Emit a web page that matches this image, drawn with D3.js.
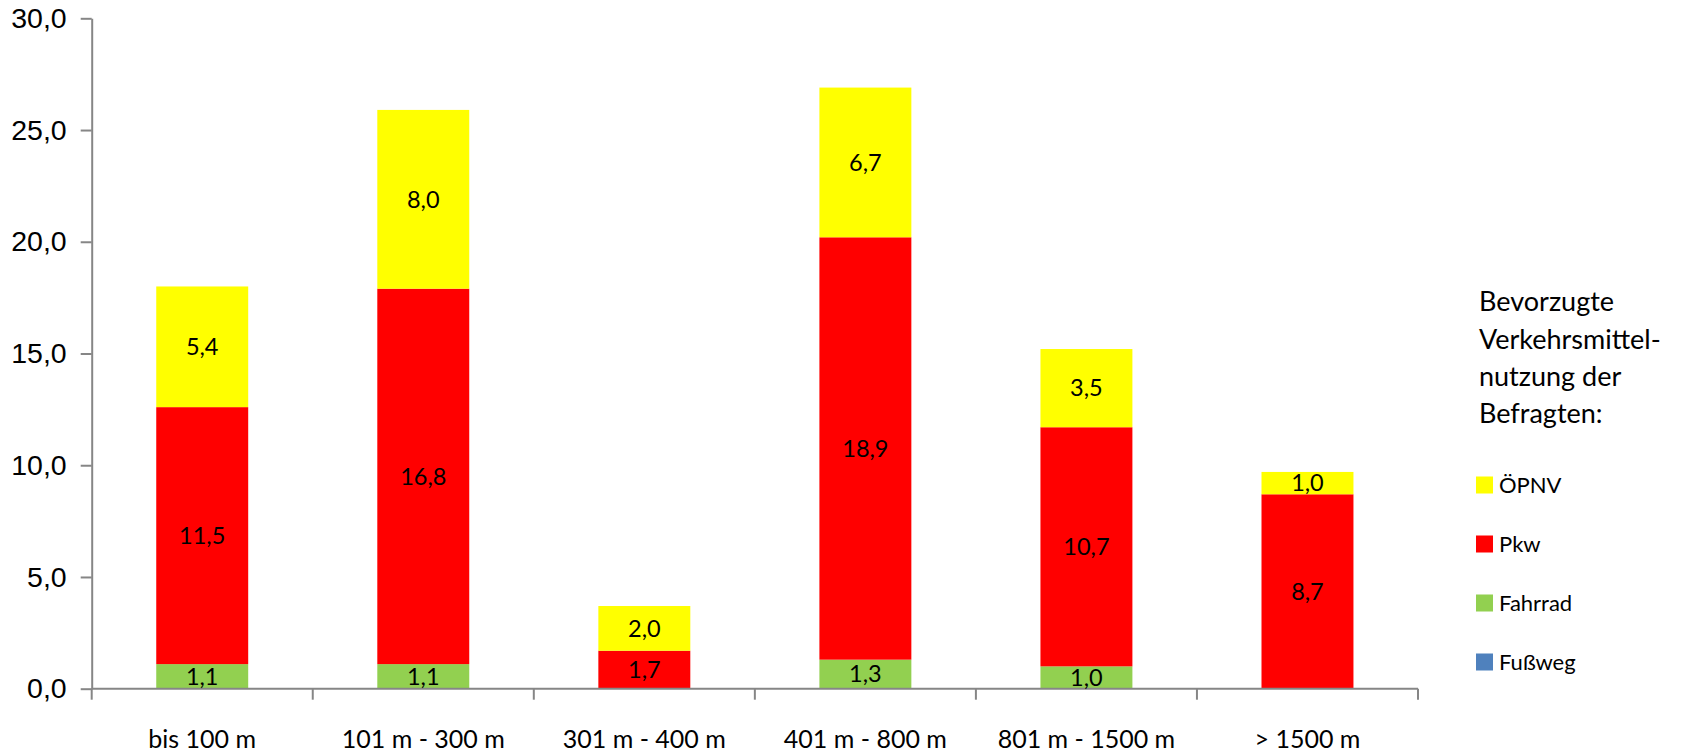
<!DOCTYPE html>
<html>
<head>
<meta charset="utf-8">
<script src="https://cdn.jsdelivr.net/npm/d3@7"></script>
<style>
  html, body { margin: 0; padding: 0; background: #fff; }
  svg { display: block; font-family: Lato, "Liberation Sans", sans-serif; }
</style>
</head>
<body>
<svg id="chart" width="1694" height="755"></svg>
<script>
const categories = ["bis 100 m", "101 m - 300 m", "301 m - 400 m", "401 m - 800 m", "801 m - 1500 m", "> 1500 m"];
const seriesNames = ["Fußweg", "Fahrrad", "Pkw", "ÖPNV"];
const fussweg = [0, 0, 0, 0, 0, 0];
const fahrrad = [1.1, 1.1, 0, 1.3, 1.0, 0];
const pkw = [11.5, 16.8, 1.7, 18.9, 10.7, 8.7];
const oepnv = [5.4, 8.0, 2.0, 6.7, 3.5, 1.0];
const yTicks = [0, 5, 10, 15, 20, 25, 30];
const legendTitle = ["Bevorzugte", "Verkehrsmittel-", "nutzung der", "Befragten:"];
const legendOrder = ["ÖPNV", "Pkw", "Fahrrad", "Fußweg"];

const colors = { "Fußweg": "#4F81BD", "Fahrrad": "#92D050", "Pkw": "#FF0000", "ÖPNV": "#FFFF00" };
const seriesValues = { "Fußweg": fussweg, "Fahrrad": fahrrad, "Pkw": pkw, "ÖPNV": oepnv };

const table = categories.map((c, i) => {
  const row = { cat: c };
  seriesNames.forEach(s => row[s] = seriesValues[s][i]);
  return row;
});

const svg = d3.select("#chart");
const axisColor = "#868686";
const fmt = v => d3.format(".1f")(v).replace(".", ",");

const x0 = 91.7, x1 = 1418;
const pad = 0.584;
const x = d3.scaleBand().domain(categories).range([x0, x1]).paddingInner(pad).paddingOuter(pad / 2);
const y = d3.scaleLinear().domain([0, 30]).range([688.7, 18.3]);

const stack = d3.stack().keys(seriesNames);
const stacked = stack(table);

// bars
const layers = svg.append("g").selectAll("g").data(stacked).join("g")
  .attr("fill", d => colors[d.key]);
layers.selectAll("rect").data(d => d.map(p => ({ p, key: d.key })))
  .join("rect")
  .attr("x", d => x(d.p.data.cat))
  .attr("width", x.bandwidth())
  .attr("y", d => y(d.p[1]))
  .attr("height", d => y(d.p[0]) - y(d.p[1]));

// y axis
const yAxis = d3.axisLeft(y).tickValues(yTicks).tickFormat(fmt).tickSize(11).tickSizeOuter(0).tickPadding(14);
const gy = svg.append("g").attr("transform", `translate(${x0},0)`).call(yAxis);
gy.select(".domain").attr("stroke", axisColor).attr("stroke-width", 2);
gy.selectAll(".tick line").attr("stroke", axisColor).attr("stroke-width", 2);
gy.selectAll(".tick text").attr("fill", "#000").style("font-size", "28.5px").attr("font-family", null);

// x axis
const gx = svg.append("g");
gx.append("line").attr("x1", x0).attr("x2", x1).attr("y1", y(0)).attr("y2", y(0))
  .attr("stroke", axisColor).attr("stroke-width", 2);
const bounds = d3.range(categories.length + 1).map(i => x0 + i * x.step());
gx.selectAll(".xt").data(bounds).join("line").attr("class", "xt")
  .attr("x1", d => d).attr("x2", d => d).attr("y1", y(0)).attr("y2", y(0) + 11)
  .attr("stroke", axisColor).attr("stroke-width", 2);
gx.selectAll(".xl").data(categories).join("text").attr("class", "xl")
  .attr("x", d => x(d) + x.bandwidth() / 2).attr("y", 748)
  .attr("text-anchor", "middle").style("font-size", "25px").attr("fill", "#000")
  .text(d => d);

// data labels
const labels = [];
stacked.forEach(layer => layer.forEach(p => {
  const v = p[1] - p[0];
  if (v > 0) labels.push({ v, cat: p.data.cat, mid: (p[0] + p[1]) / 2 });
}));
svg.append("g").selectAll("text").data(labels).join("text")
  .attr("x", d => x(d.cat) + x.bandwidth() / 2)
  .attr("y", d => y(d.mid))
  .attr("dy", "0.35em")
  .attr("text-anchor", "middle").style("font-size", "23.5px").attr("fill", "#000")
  .text(d => fmt(d.v));

// legend
const lg = svg.append("g");
lg.selectAll(".lt").data(legendTitle).join("text").attr("class", "lt")
  .attr("x", 1479).attr("y", (d, i) => 302 + i * 37.3).attr("dy", "0.35em")
  .style("font-size", "27px").attr("fill", "#000").text(d => d);
const items = lg.selectAll(".li").data(legendOrder).join("g").attr("class", "li")
  .attr("transform", (d, i) => `translate(1476,${485 + i * 59})`);
items.append("rect").attr("x", 0).attr("y", -8.5).attr("width", 17).attr("height", 17)
  .attr("fill", d => colors[d]);
items.append("text").attr("x", 23).attr("y", 0).attr("dy", "0.35em")
  .style("font-size", "22px").attr("fill", "#000").text(d => d);
</script>
</body>
</html>
